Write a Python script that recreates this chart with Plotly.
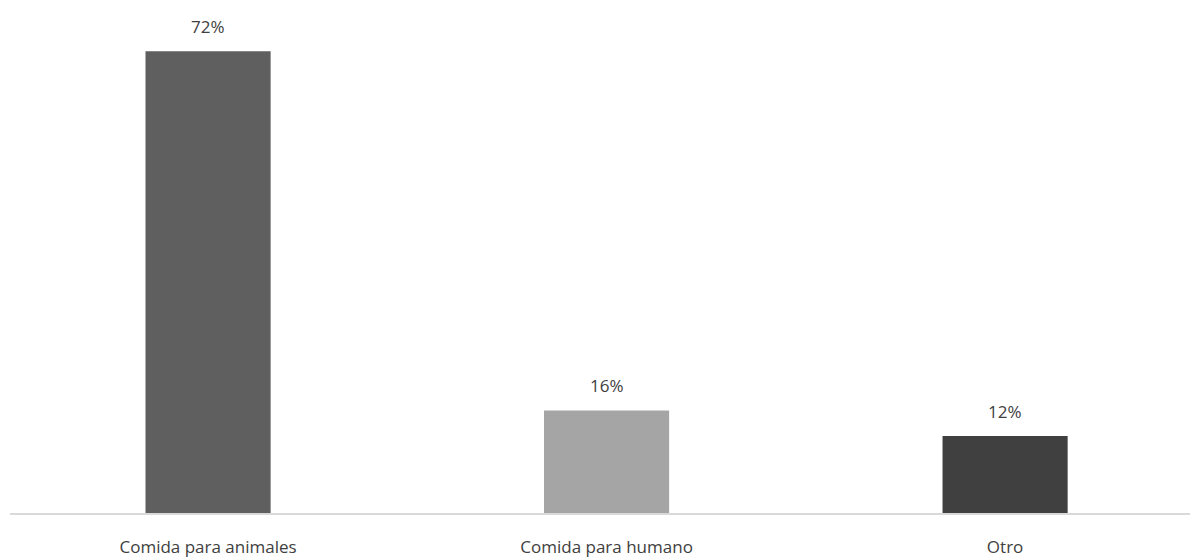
import plotly.graph_objects as go

categories = ["Comida para animales", "Comida para humano", "Otro"]
values = [72, 16, 12]
labels = ["72%", "16%", "12%"]
bar_colors = ["#5f5f5f", "#a5a5a5", "#404040"]

x_pos = list(range(len(categories)))

fig = go.Figure(
    go.Bar(
        x=x_pos,
        y=values,
        width=0.314,
        marker=dict(color=bar_colors, line=dict(width=0)),
        hoverinfo="skip",
    )
)

for xi, v, t in zip(x_pos, values, labels):
    fig.add_annotation(
        x=xi, y=v, text=t, showarrow=False,
        yanchor="bottom", yshift=11,
        font=dict(family="Open Sans", size=17, color="#404040"),
    )

fig.update_layout(
    width=1190, height=558,
    margin=dict(l=10, r=0, t=0, b=38),
    paper_bgcolor="white", plot_bgcolor="white",
    showlegend=False,
    font=dict(family="Open Sans", size=17, color="#404040"),
    xaxis=dict(
        range=[-0.497, 2.464],
        tickmode="array", tickvals=x_pos, ticktext=categories,
        showline=True, linecolor="#d9d9d9", linewidth=2,
        showgrid=False, zeroline=False, ticks="",
        ticklabelstandoff=18,
        tickfont=dict(family="Open Sans", size=17, color="#404040"),
    ),
    yaxis=dict(
        range=[0, 80.0], visible=False, showgrid=False, zeroline=False,
    ),
)

fig.write_html("out.html")
